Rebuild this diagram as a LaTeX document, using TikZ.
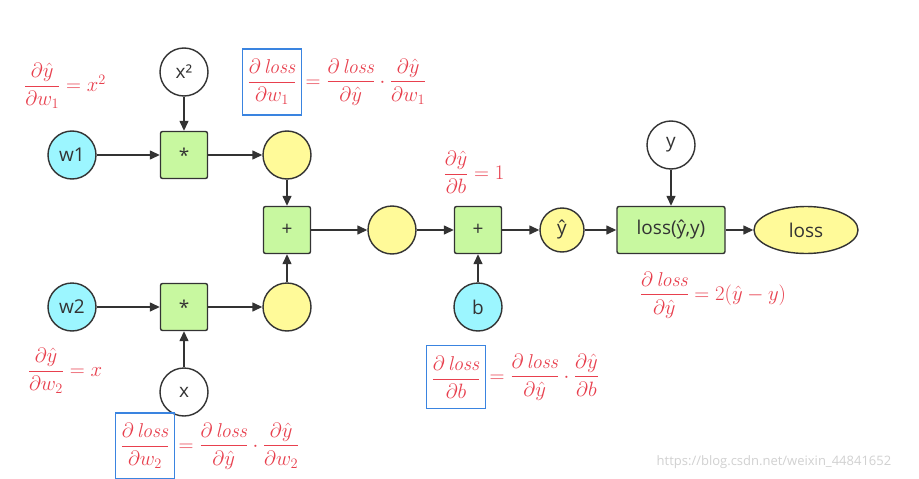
\documentclass[tikz,border=0pt]{standalone}
\usepackage{amsmath}
\usepackage{fontspec}
\setsansfont{Open Sans}
\usetikzlibrary{arrows.meta,shapes.geometric}
\definecolor{cy}{HTML}{9CF6FF}
\definecolor{gr}{HTML}{C8F8A0}
\definecolor{ye}{HTML}{FFFA99}
\definecolor{hred}{HTML}{E8404E}
\definecolor{hblue}{HTML}{3A84E0}
\definecolor{ln}{HTML}{333333}
\begin{document}
\begin{tikzpicture}[x=1pt,y=-1pt,
  lbl/.style={font=\sffamily\fontsize{19}{22}\selectfont, text=ln},
  base/.style={draw=ln, line width=1.4pt, inner sep=0pt, lbl},
  var/.style={base, circle, minimum size=48pt, fill=cy},
  inp/.style={base, circle, minimum size=48pt, fill=white},
  mid/.style={base, circle, minimum size=48pt, fill=ye},
  opbox/.style={base, rectangle, rounded corners=2pt, minimum width=47pt, minimum height=47pt, fill=gr},
  arr/.style={draw=ln, line width=1.4pt, -{Triangle[length=10pt,width=9pt]}},
  hand/.style={text=hred, font=\fontsize{20}{24}\selectfont, inner sep=0pt},
  bluebox/.style={draw=hblue, line width=1.3pt, inner xsep=5pt, inner ysep=10pt}
]
\useasboundingbox[fill=white] (0,0) rectangle (919,479);

% nodes
\node[var] (w1) at (72,155) {w1};
\node[inp] (x2) at (184,72) {x²};
\node[opbox] (m1) at (184,155) {*};
\node[mid] (y1) at (287,155) {};
\node[opbox] (p1) at (287,230) {+};
\node[var] (w2) at (72,307) {w2};
\node[opbox] (m2) at (184,307) {*};
\node[mid] (y2) at (287,307) {};
\node[inp] (xx) at (184,392) {x};
\node[mid] (ym) at (392,230) {};
\node[opbox] (p2) at (478,230) {+};
\node[var] (b) at (478,307) {b};
\node[mid, minimum size=44pt] (yh) at (562,230) {ŷ};
\node[opbox, minimum width=108pt] (L) at (671,230) {loss(ŷ,y)};
\node[inp] (yc) at (671,145) {y};
\node[base, ellipse, fill=ye, minimum width=104pt, minimum height=47pt] (loss) at (806,230) {loss};

% connectors
\draw[arr] (w1) -- (m1);
\draw[arr] (x2) -- (m1);
\draw[arr] (m1) -- (y1);
\draw[arr] (y1) -- (p1);
\draw[arr] (w2) -- (m2);
\draw[arr] (xx) -- (m2);
\draw[arr] (m2) -- (y2);
\draw[arr] (y2) -- (p1);
\draw[arr] (p1) -- (ym);
\draw[arr] (ym) -- (p2);
\draw[arr] (b) -- (p2);
\draw[arr] (p2) -- (yh);
\draw[arr] (yh) -- (L);
\draw[arr] (yc) -- (L);
\draw[arr] (L) -- (loss);

% handwritten annotations
\node[hand] (e1) at (65,86) {$\dfrac{\partial\hat y}{\partial w_1}=x^2$};
\node[hand] (e3) at (65,371) {$\dfrac{\partial\hat y}{\partial w_2}=x$};
\node[hand] (e5) at (474,172) {$\dfrac{\partial\hat y}{\partial b}=1$};
\node[hand] (e7) at (713,295) {$\dfrac{\partial\,\mathit{loss}}{\partial\hat y}=2(\hat y-y)$};

\node[hand, bluebox] (bw1) at (272,82) {$\dfrac{\partial\,\mathit{loss}}{\partial w_1}$};
\node[hand, anchor=west] (r1) at (bw1.east) {$\,=\dfrac{\partial\,\mathit{loss}}{\partial\hat y}\cdot\dfrac{\partial\hat y}{\partial w_1}$};

\node[hand, bluebox] (bw2) at (145,446) {$\dfrac{\partial\,\mathit{loss}}{\partial w_2}$};
\node[hand, anchor=west] (r2) at (bw2.east) {$\,=\dfrac{\partial\,\mathit{loss}}{\partial\hat y}\cdot\dfrac{\partial\hat y}{\partial w_2}$};

\node[hand, bluebox] (bb) at (456,377) {$\dfrac{\partial\,\mathit{loss}}{\partial b}$};
\node[hand, anchor=west] (r3) at (bb.east) {$\,=\dfrac{\partial\,\mathit{loss}}{\partial\hat y}\cdot\dfrac{\partial\hat y}{\partial b}$};

% watermark
\node[font=\sffamily\fontsize{13}{15}\selectfont, text=black!18] (wm) at (774,462) {https://blog.csdn.net/weixin\_44841652};
\end{tikzpicture}
\end{document}
